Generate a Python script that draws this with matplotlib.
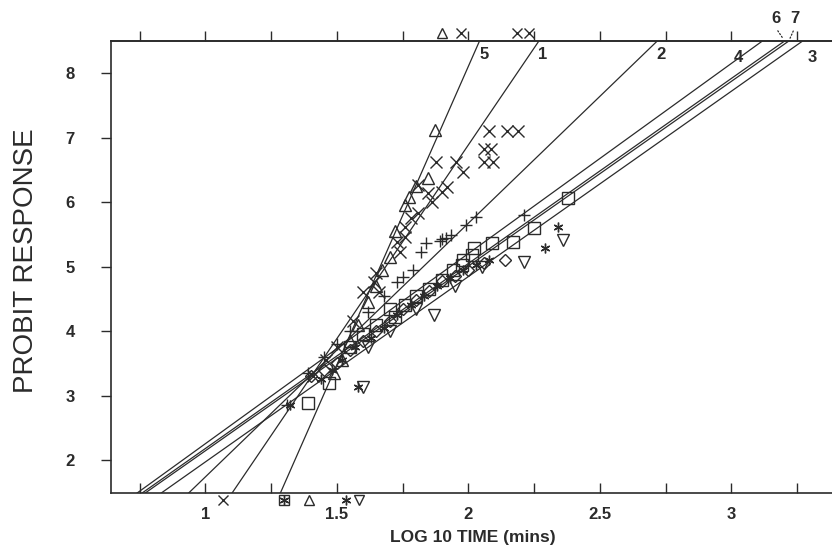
import matplotlib
matplotlib.use("Agg")
import numpy as np
import matplotlib.pyplot as plt

plt.rcParams['font.family'] = ['Liberation Sans', 'DejaVu Sans']

INK = "#2b2b2b"

# --- fitted probit lines: response = a + b * log10(time) ---
line_ids = ["1", "2", "3", "4", "5", "6", "7"]
intercepts = [-5.13, -2.195, -0.903, -0.694, -10.41, -0.690, -0.720]
slopes = [6.01, 3.935, 2.875, 2.949, 9.26, 2.870, 2.865]
markers = ['x', '+', 'v', 'D', '^', 's', (6, 2, 0)]
marker_sizes = [9, 8, 8, 6, 8, 8, 7]

# --- observed points, one pair of lists per series ---
x1 = [2.08, 2.145, 2.19, 2.06, 2.085, 2.06, 2.095, 1.878, 1.954, 1.98, 1.81, 1.847, 1.92, 1.90,
      1.86, 1.81, 1.78, 1.76, 1.76, 1.73, 1.74, 1.65, 1.64, 1.60, 1.66, 1.56, 1.50, 1.46, 1.41]
y1 = [7.10, 7.10, 7.10, 6.82, 6.82, 6.62, 6.62, 6.62, 6.62, 6.47, 6.26, 6.14, 6.23, 6.16,
      6.00, 5.83, 5.75, 5.61, 5.46, 5.38, 5.23, 4.90, 4.76, 4.60, 4.60, 4.15, 3.75, 3.55, 3.30]
x2 = [2.21, 2.03, 1.99, 1.935, 1.915, 1.90, 1.89, 1.84, 1.82, 1.79, 1.75, 1.73, 1.68, 1.62,
      1.55, 1.50, 1.45, 1.39, 1.31]
y2 = [5.80, 5.77, 5.64, 5.49, 5.45, 5.43, 5.40, 5.36, 5.22, 4.95, 4.84, 4.76, 4.55, 4.30,
      4.00, 3.80, 3.60, 3.35, 2.85]
x3 = [2.36, 2.21, 2.05, 1.95, 1.87, 1.80, 1.70, 1.62, 1.60]
y3 = [5.41, 5.07, 5.00, 4.70, 4.25, 4.35, 4.00, 3.75, 3.13]
x4 = [2.14, 2.06, 2.00, 1.95, 1.90, 1.85, 1.80, 1.75, 1.70, 1.65, 1.60, 1.55, 1.50, 1.45, 1.40]
y4 = [5.10, 5.05, 4.95, 4.85, 4.78, 4.62, 4.48, 4.35, 4.15, 4.00, 3.85, 3.70, 3.50, 3.40, 3.30]
x5 = [1.874, 1.845, 1.80, 1.775, 1.76, 1.72, 1.70, 1.67, 1.65, 1.62, 1.58, 1.55, 1.52, 1.49]
y5 = [7.12, 6.38, 6.25, 6.08, 5.95, 5.55, 5.15, 4.95, 4.70, 4.45, 4.10, 3.85, 3.55, 3.35]
x6 = [2.38, 2.25, 2.17, 2.09, 2.02, 2.015, 1.98, 1.975, 1.94, 1.90, 1.85, 1.80, 1.76, 1.72,
      1.70, 1.65, 1.60, 1.55, 1.47, 1.39]
y6 = [6.06, 5.60, 5.38, 5.36, 5.29, 5.18, 5.11, 5.03, 4.95, 4.80, 4.66, 4.55, 4.40, 4.22,
      4.35, 4.10, 3.95, 3.75, 3.19, 2.88]
x7 = [2.34, 2.29, 2.08, 2.03, 1.98, 1.93, 1.88, 1.83, 1.78, 1.73, 1.68, 1.63, 1.57, 1.52,
      1.48, 1.44, 1.58, 1.32]
y7 = [5.61, 5.29, 5.10, 5.02, 4.95, 4.82, 4.70, 4.55, 4.40, 4.25, 4.05, 3.90, 3.75, 3.55,
      3.40, 3.25, 3.13, 2.85]
series_x = [x1, x2, x3, x4, x5, x6, x7]
series_y = [y1, y2, y3, y4, y5, y6, y7]

# responses of 0% / 100% shown off-scale along the frame
top_x = [[1.973, 2.183, 2.229], [], [], [], [1.90], [], []]
bottom_x = [[1.065], [], [1.584], [], [1.393], [1.298], [1.534, 1.298]]

XMIN, XMAX = 0.641, 3.393
YMIN, YMAX = 1.49, 8.5
xtick_vals = [0.75, 1.0, 1.25, 1.5, 1.75, 2.0, 2.25, 2.5, 2.75, 3.0, 3.25]
xtick_text = ["", "1", "", "1.5", "", "2", "", "2.5", "", "3", ""]
ytick_vals = [2, 3, 4, 5, 6, 7, 8]

fig = plt.figure(figsize=(8.32, 5.48), dpi=100)
ax = fig.add_axes([0.1334, 0.1004, 0.8700, 0.8248])

xx = np.array([XMIN, XMAX])
for a, b in zip(intercepts, slopes):
    ax.plot(xx, a + b * xx, color=INK, lw=0.9, zorder=3)

for xs, ys, m, ms in zip(series_x, series_y, markers, marker_sizes):
    ax.plot(xs, ys, ls='none', marker=m, ms=ms, mfc='none', mec=INK, mew=1.0, zorder=4)

y_top_row = YMAX + 0.12
y_bot_row = YMIN - 0.11
for xs, m in zip(top_x, markers):
    if xs:
        ax.plot(xs, [y_top_row] * len(xs), ls='none', marker=m, ms=7, mfc='none',
                mec=INK, mew=1.0, clip_on=False, zorder=5)
for xs, m in zip(bottom_x, markers):
    if xs:
        ax.plot(xs, [y_bot_row] * len(xs), ls='none', marker=m, ms=7, mfc='none',
                mec=INK, mew=1.0, clip_on=False, zorder=5)

# line numbers where each fit leaves the top of the frame
label_offsets = {"1": (3, -10), "2": (3, -10), "3": (7, -12), "4": (-17, -12),
                 "5": (3, -10), "6": (-6, 16), "7": (4, 16)}
for lid, a, b in zip(line_ids, intercepts, slopes):
    xt = (YMAX - a) / b
    dx, dy = label_offsets[lid]
    ax.annotate(lid, xy=(xt, YMAX), xytext=(dx, dy), textcoords='offset points',
                ha='center', va='center', fontsize=12, fontweight='bold', color=INK,
                annotation_clip=False)
    if lid in ("6", "7"):
        ax.annotate("", xy=(xt, YMAX), xytext=(dx, dy - 7), textcoords='offset points',
                    arrowprops=dict(arrowstyle='-', ls=':', lw=0.9, color=INK),
                    annotation_clip=False)

ax.set_xlim(XMIN, XMAX)
ax.set_ylim(YMIN, YMAX)

ax.set_xticks(xtick_vals)
ax.set_xticklabels(xtick_text)
ax.set_yticks(ytick_vals)
ax.tick_params(axis='x', direction='in', length=7, width=1, color=INK, top=False,
               labelsize=12, pad=10, labelcolor=INK)
ax.tick_params(axis='y', direction='out', length=7, width=1, color=INK, right=False,
               labelsize=12, pad=19, labelcolor=INK)
for lab in ax.get_xticklabels() + ax.get_yticklabels():
    lab.set_fontweight('bold')

sec = ax.secondary_xaxis('top')
sec.set_xticks(xtick_vals)
sec.tick_params(direction='out', length=7, width=1, color=INK, labeltop=False)
sec.spines['top'].set_color(INK)
sec.spines['top'].set_linewidth(1.2)

for s in ('left', 'bottom', 'top'):
    ax.spines[s].set_color(INK)
    ax.spines[s].set_linewidth(1.2)
ax.spines['right'].set_visible(False)

ax.set_xlabel("LOG 10 TIME (mins)", fontsize=12.5, fontweight='bold', color=INK, labelpad=6)
fig.text(0.031, 0.525, "PROBIT RESPONSE", rotation=90, fontsize=20, color=INK,
         ha='center', va='center')

fig.savefig("out.png", dpi=100, facecolor='white')
